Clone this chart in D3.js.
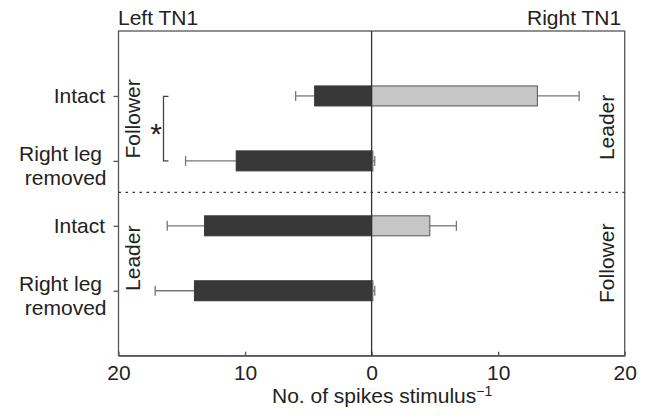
<!DOCTYPE html>
<html>
<head>
<meta charset="utf-8">
<script src="https://cdn.jsdelivr.net/npm/d3@7"></script>
<style>
  html, body { margin: 0; padding: 0; background: #fff; }
  svg { display: block; font-family: "Liberation Sans", Arial, Helvetica, sans-serif; }
</style>
</head>
<body>
<svg id="chart" width="650" height="418"></svg>
<script>
// Spike counts per stimulus for the left and right TN1 neurons
const rowIds = ["intactA", "removedA", "intactB", "removedB"];
const rowLabels = [["Intact"], ["Right leg", "removed"], ["Intact"], ["Right leg", "removed"]];
const leftTN1 = [4.5, 10.7, 13.2, 14.0];
const leftErr = [1.5, 4.0, 2.95, 3.1];
const rightTN1 = [13.1, 0.1, 4.6, 0.1];
const rightErr = [3.3, 0.15, 2.1, 0.15];
const leftRoles = ["Follower", "Leader"];
const rightRoles = ["Leader", "Follower"];
const xTicks = [-20, -10, 0, 10, 20];

const W = 650, H = 418;
const margin = { top: 31, right: 25.3, bottom: 62.3, left: 118.5 };
const fs = 21;
const svg = d3.select("#chart");

const x = d3.scaleLinear().domain([-20, 20]).range([margin.left, W - margin.right]);
const y = d3.scalePoint().domain(rowIds).range([margin.top, H - margin.bottom]).padding(1);

const barH = 20;
const frameColor = "#555";
const errColor = "#777";

// Plot frame
svg.append("rect")
  .attr("x", x(-20)).attr("y", margin.top)
  .attr("width", x(20) - x(-20)).attr("height", H - margin.bottom - margin.top)
  .attr("fill", "none").attr("stroke", frameColor).attr("stroke-width", 1.3);

// Divider between the two groups
const midY = (y(rowIds[1]) + y(rowIds[2])) / 2;
svg.append("line")
  .attr("x1", x(-20)).attr("x2", x(20)).attr("y1", midY - 1).attr("y2", midY - 1)
  .attr("stroke", "#333").attr("stroke-width", 1.3).attr("stroke-dasharray", "2.5,4.5");

// Bottom axis with inward ticks and unsigned labels
const xAxis = d3.axisBottom(x).tickValues(xTicks)
  .tickFormat(d => Math.abs(d)).tickSizeInner(-4).tickSizeOuter(0).tickPadding(9.5);
const gx = svg.append("g").attr("transform", `translate(0,${H - margin.bottom})`).call(xAxis);
gx.select(".domain").attr("stroke", frameColor).attr("stroke-width", 1.3);
gx.selectAll(".tick line").attr("stroke", frameColor).attr("stroke-width", 1.3);
gx.selectAll(".tick text").attr("font-size", fs).attr("fill", "#222")
  .attr("font-family", "'Liberation Sans', Arial, sans-serif");

// Left axis: outward ticks only
const yAxis = d3.axisLeft(y).tickSize(5).tickFormat("");
const gy = svg.append("g").attr("transform", `translate(${x(-20)},0)`).call(yAxis);
gy.select(".domain").remove();
gy.selectAll(".tick line").attr("stroke", frameColor).attr("stroke-width", 1.3);

// Row labels
rowIds.forEach((id, i) => {
  const lines = rowLabels[i];
  const t = svg.append("text")
    .attr("text-anchor", "end").attr("font-size", fs).attr("fill", "#222");
  if (lines.length === 1) {
    t.append("tspan").attr("x", 105).attr("y", y(id) + 7).text(lines[0]);
  } else {
    t.append("tspan").attr("x", 102).attr("y", y(id) + 0.5).text(lines[0]);
    t.append("tspan").attr("x", 106.5).attr("y", y(id) + 24.5).text(lines[1]);
  }
});

// Error bars (drawn under the bars)
function errBar(g, v, e, row, sign) {
  const yc = y(row);
  const x0 = x(sign * v), x1 = x(sign * (v + e));
  g.append("line").attr("x1", x0).attr("x2", x1).attr("y1", yc).attr("y2", yc)
    .attr("stroke", errColor).attr("stroke-width", 1.3);
  g.append("line").attr("x1", x1).attr("x2", x1).attr("y1", yc - 5).attr("y2", yc + 5)
    .attr("stroke", errColor).attr("stroke-width", 1.3);
}
const gErr = svg.append("g");
rowIds.forEach((id, i) => {
  errBar(gErr, leftTN1[i], leftErr[i], id, -1);
  errBar(gErr, rightTN1[i], rightErr[i], id, 1);
});

// Left TN1 bars (dark)
svg.append("g").selectAll("rect").data(rowIds).join("rect")
  .attr("x", (d, i) => x(-leftTN1[i]))
  .attr("y", d => y(d) - barH / 2)
  .attr("width", (d, i) => x(0) - x(-leftTN1[i]))
  .attr("height", barH)
  .attr("fill", "#383838").attr("stroke", "#383838").attr("stroke-width", 1);

// Right TN1 bars (light)
svg.append("g").selectAll("rect").data(rowIds).join("rect")
  .attr("x", x(0))
  .attr("y", d => y(d) - barH / 2)
  .attr("width", (d, i) => x(rightTN1[i]) - x(0))
  .attr("height", barH)
  .attr("fill", "#c6c6c6").attr("stroke", "#555").attr("stroke-width", 1);

// Zero line
svg.append("line")
  .attr("x1", x(0)).attr("x2", x(0)).attr("y1", margin.top).attr("y2", H - margin.bottom)
  .attr("stroke", "#333").attr("stroke-width", 1.3);

// Role labels (rotated)
const upperMid = (y(rowIds[0]) + y(rowIds[1])) / 2;
const lowerMid = (y(rowIds[2]) + y(rowIds[3])) / 2;
function roleLabel(text, bx, cy) {
  svg.append("text")
    .attr("transform", `translate(${bx},${cy}) rotate(-90)`)
    .attr("text-anchor", "middle").attr("font-size", fs).attr("fill", "#222")
    .text(text);
}
roleLabel(leftRoles[0], x(-20) + 21.5, upperMid - 9.5);
roleLabel(leftRoles[1], x(-20) + 21.5, lowerMid);
roleLabel(rightRoles[0], x(20) - 11, upperMid - 1);
roleLabel(rightRoles[1], x(20) - 11, lowerMid + 5);

// Significance bracket between the two follower rows
const bx = x(-20) + 45;
svg.append("path")
  .attr("d", `M${bx + 5},${y(rowIds[0]) + 0.5} H${bx} V${y(rowIds[1])} H${bx + 5}`)
  .attr("fill", "none").attr("stroke", "#444").attr("stroke-width", 1.3);
svg.append("text")
  .attr("x", bx - 7.5).attr("y", upperMid + 15.5)
  .attr("text-anchor", "middle").attr("font-size", 30).attr("fill", "#222")
  .text("*");

// Panel titles
svg.append("text").attr("x", x(-20) - 0.5).attr("y", 25)
  .attr("font-size", fs).attr("fill", "#222").text("Left TN1");
svg.append("text").attr("x", x(20) - 3.5).attr("y", 25).attr("text-anchor", "end")
  .attr("font-size", fs).attr("fill", "#222").text("Right TN1");

// Axis title with superscript
const xt = svg.append("text").attr("x", 272).attr("y", 403)
  .attr("font-size", fs).attr("fill", "#222");
xt.append("tspan").text("No. of spikes stimulus");
xt.append("tspan").attr("font-size", 14).attr("dy", -7.5).text("\u22121");
</script>
</body>
</html>
